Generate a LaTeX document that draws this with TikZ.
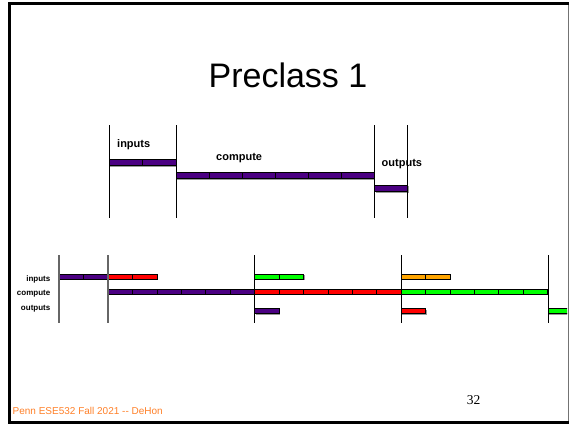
\documentclass[tikz,border=0pt]{standalone}
\usepackage{fontspec}
\setmainfont{Liberation Sans}
\newfontfamily\serifnum{Liberation Serif}
\definecolor{bpurple}{RGB}{75,0,130}
\definecolor{bred}{RGB}{255,0,0}
\definecolor{bgreen}{RGB}{0,255,0}
\definecolor{borange}{RGB}{255,165,0}
\definecolor{footorange}{RGB}{255,128,40}

% segmented bar: x0, y top, segment length, segment count, colour, height
\newcommand\segbar[6]{%
  \fill[black!40] (#1+1.3,#2+1.3) rectangle ++(#3*#4,#6);
  \foreach \k in {1,...,#4}{%
    \filldraw[fill=#5,draw=black,line width=0.7pt]
      ({#1+(\k-1)*#3},#2) rectangle ++(#3,#6);
  }%
}

\tikzset{
  phase/.style={font=\bfseries\fontsize{11}{13}\selectfont,inner sep=0pt},
  rowlbl/.style={font=\bfseries\fontsize{8}{10}\selectfont,inner sep=0pt,anchor=east},
  divider/.style={line width=0.9pt,draw=black},
  softdivider/.style={line width=1.1pt,draw=black!60},
}

\begin{document}
\begin{tikzpicture}[x=1pt,y=-1pt]
\useasboundingbox (0,0) rectangle (569,424);
\fill[white] (0,0) rectangle (569,424);

% slide frame
\draw[black!55,line width=1pt] (568,3) -- (568,422);
\draw[black,line width=3pt] (9.5,422.5) -- (9.5,3.5) -- (568.5,3.5);
\draw[black,line width=3pt] (8,422.5) -- (568.5,422.5);

% title
\node[font=\fontsize{34}{40}\selectfont,anchor=base,inner sep=0pt] (title) at (288,87.5) {Preclass 1};

% ---- single task: inputs, compute, outputs in sequence ----
\segbar{109}{159}{33.5}{2}{bpurple}{6.5}
\segbar{176}{172}{33}{6}{bpurple}{6.5}
\segbar{374.5}{185}{33}{1}{bpurple}{6.5}
\foreach \x in {109,176,374.5,407.5}{\draw[divider] (\x,125) -- (\x,218);}
\node[phase,anchor=west] (tin) at (117,145) {inputs};
\node[phase,anchor=west] (tcomp) at (216,158) {compute};
\node[phase,anchor=west] (tout) at (381.5,164.5) {outputs};

% ---- pipelined tasks ----
\node[rowlbl] (rin) at (50.5,279.5) {inputs};
\node[rowlbl] (rcomp) at (50.5,293.5) {compute};
\node[rowlbl] (rout) at (50.5,309) {outputs};

% inputs row
\segbar{59}{274}{24.45}{2}{bpurple}{5}
\segbar{108}{274}{24.45}{2}{bred}{5}
\segbar{254.5}{274}{24.45}{2}{bgreen}{5}
\segbar{401}{274}{24.45}{2}{borange}{5}
% compute row
\segbar{108}{289}{24.45}{6}{bpurple}{5}
\segbar{254.5}{289}{24.45}{6}{bred}{5}
\segbar{401}{289}{24.45}{6}{bgreen}{5}
% outputs row
\segbar{254.5}{308.5}{24.45}{1}{bpurple}{5}
\segbar{401}{308.5}{24.45}{1}{bred}{5}
\begin{scope}
  \clip (540,300) rectangle (567,320);
  \segbar{548}{308.5}{24.45}{1}{bgreen}{5}
\end{scope}

\foreach \x in {59,108}{\draw[softdivider] (\x,255) -- (\x,323);}
\foreach \x in {254.5,401,548}{\draw[divider] (\x,255) -- (\x,323);}

% footer
\node[font=\fontsize{10}{12}\selectfont,text=footorange,anchor=west,inner sep=0pt] (foot) at (12.5,411) {Penn ESE532 Fall 2021 -{}- DeHon};
\node[font=\serifnum\fontsize{13.5}{15}\selectfont,anchor=base,inner sep=0pt] (pnum) at (473.5,404.5) {32};
\end{tikzpicture}
\end{document}
